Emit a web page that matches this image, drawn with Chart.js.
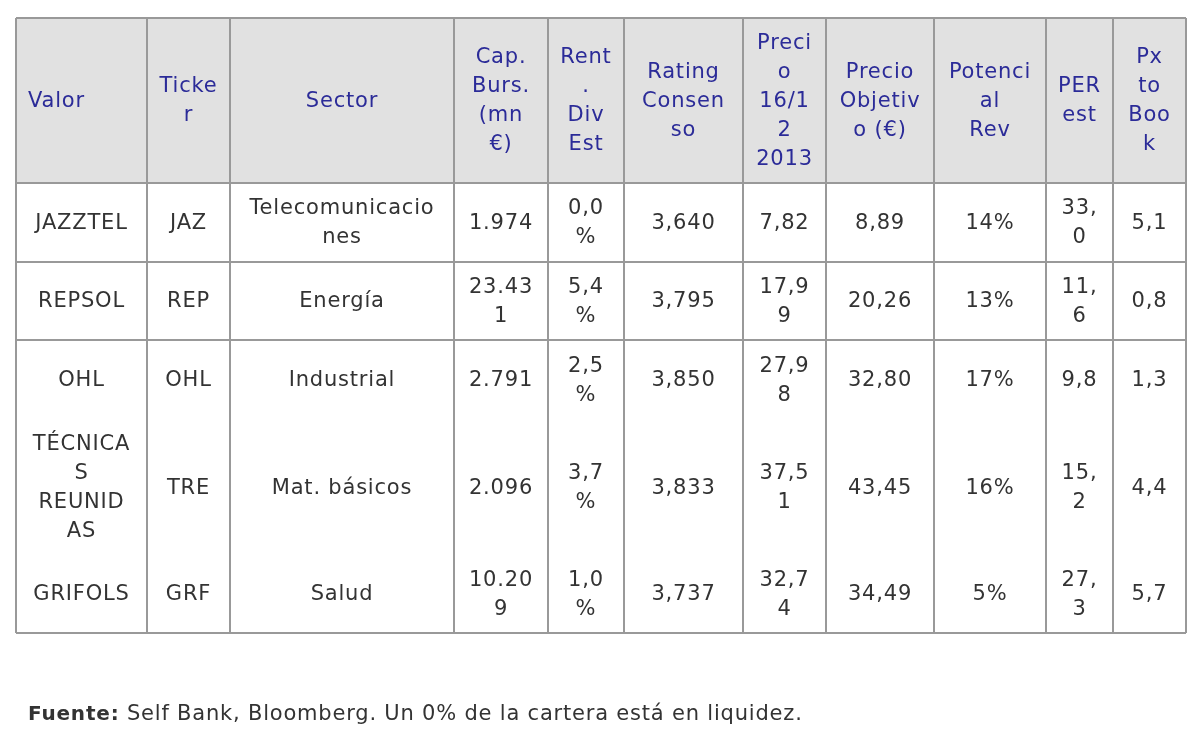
<!DOCTYPE html>
<html><head><meta charset="utf-8">
<script src="https://cdn.jsdelivr.net/npm/chart.js@4"></script>
<style>html,body{margin:0;padding:0;background:#fff}canvas{display:block}</style>
</head><body>
<canvas id="c" width="1195" height="729"></canvas>
<script>
const headers = ["Valor","Ticke\nr","Sector","Cap.\nBurs.\n(mn\n€)","Rent\n.\nDiv\nEst","Rating\nConsen\nso","Preci\no\n16/1\n2\n2013","Precio\nObjetiv\no (€)","Potenci\nal\nRev","PER\nest","Px\nto\nBoo\nk"];
const valores = ["JAZZTEL","REPSOL","OHL","TÉCNICA\nS\nREUNID\nAS","GRIFOLS"];
const tickers = ["JAZ","REP","OHL","TRE","GRF"];
const sectores = ["Telecomunicacio\nnes","Energía","Industrial","Mat. básicos","Salud"];
const capBurs = ["1.974","23.43\n1","2.791","2.096","10.20\n9"];
const rentDiv = ["0,0\n%","5,4\n%","2,5\n%","3,7\n%","1,0\n%"];
const rating = ["3,640","3,795","3,850","3,833","3,737"];
const precio = ["7,82","17,9\n9","27,9\n8","37,5\n1","32,7\n4"];
const objetivo = ["8,89","20,26","32,80","43,45","34,49"];
const potencial = ["14%","13%","17%","16%","5%"];
const per = ["33,\n0","11,\n6","9,8","15,\n2","27,\n3"];
const pxBook = ["5,1","0,8","1,3","4,4","5,7"];
const footBold = "Fuente:";
const footText = " Self Bank, Bloomberg. Un 0% de la cartera está en liquidez.";

// layout (pixel units on the hidden linear scales)
const colEdges = [16,147,230,454,548,624,743,826,934,1046,1113,1186];
const rowEdges = [18,183,262,340,420,555,633];
const ruledRows = [0,1,2,3,6];

const columns = [valores,tickers,sectores,capBurs,rentDiv,rating,precio,objetivo,potencial,per,pxBook];

const tablePlugin = {
  id:'table',
  afterDraw(chart){
    const ctx = chart.ctx, X = chart.scales.x, Y = chart.scales.y;
    const px = v => X.getPixelForValue(v), py = v => Y.getPixelForValue(v);
    const L = px(colEdges[0]), R = px(colEdges[colEdges.length-1]);
    ctx.save();
    ctx.fillStyle = '#e1e1e1';
    ctx.fillRect(L, py(rowEdges[0]), R-L, py(rowEdges[1])-py(rowEdges[0]));
    ctx.strokeStyle = '#999999'; ctx.lineWidth = 2;
    const T = py(rowEdges[0]), B = py(rowEdges[rowEdges.length-1]);
    colEdges.forEach(c=>{ctx.beginPath();ctx.moveTo(px(c),T);ctx.lineTo(px(c),B);ctx.stroke();});
    ruledRows.forEach(i=>{const y=py(rowEdges[i]);ctx.beginPath();ctx.moveTo(L,y);ctx.lineTo(R,y);ctx.stroke();});
    ctx.textBaseline = 'middle';
    ctx.letterSpacing = '0.8px';
    const lh = 29;
    const drawCell = (txt, ci, ri, color, left) => {
      const lines = txt.split('\n');
      const cy = (py(rowEdges[ri])+py(rowEdges[ri+1]))/2 + 1;
      ctx.fillStyle = color;
      ctx.textAlign = left ? 'left' : 'center';
      const x = left ? px(colEdges[ci])+12 : (px(colEdges[ci])+px(colEdges[ci+1]))/2;
      lines.forEach((l,k)=>ctx.fillText(l, x, cy + (k-(lines.length-1)/2)*lh));
    };
    ctx.font = '21px "DejaVu Sans", Verdana, sans-serif';
    headers.forEach((h,i)=>drawCell(h,i,0,'#2b2b98',i===0));
    columns.forEach((col,ci)=>col.forEach((v,r)=>drawCell(v,ci,r+1,'#333333',false)));
    ctx.textAlign='left'; ctx.fillStyle='#333';
    ctx.font = 'bold 20px "DejaVu Sans", Verdana, sans-serif';
    const fx = px(28), fy = py(715);
    ctx.fillText(footBold, fx, fy);
    const w = ctx.measureText(footBold).width;
    ctx.font = '21px "DejaVu Sans", Verdana, sans-serif';
    ctx.fillText(footText, fx+w, fy);
    ctx.restore();
  }
};

new Chart(document.getElementById('c'), {
  type:'scatter',
  data:{datasets:[{data:[]}]},
  options:{
    responsive:false, animation:false, devicePixelRatio:1,
    layout:{padding:0},
    plugins:{legend:{display:false},tooltip:{enabled:false}},
    scales:{
      x:{type:'linear',min:0,max:1195,display:false},
      y:{type:'linear',min:0,max:729,reverse:true,display:false}
    }
  },
  plugins:[tablePlugin]
});
</script>
</body></html>
